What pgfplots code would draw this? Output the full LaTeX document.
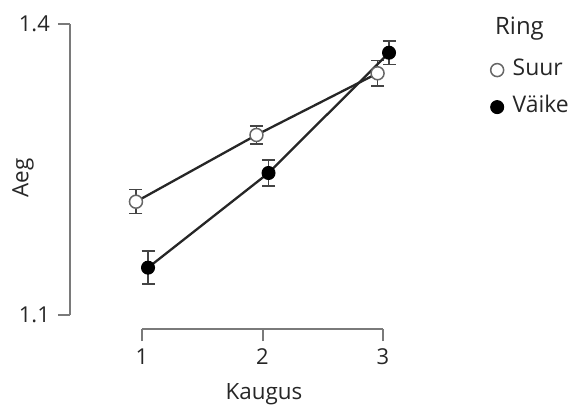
\documentclass[border=0pt]{standalone}
\usepackage{pgfplots}
\pgfplotsset{compat=1.18}
\usepackage{fontspec}
\setmainfont{Open Sans}
\definecolor{axgray}{HTML}{7A7A7A}
\definecolor{txtgray}{HTML}{262626}
\definecolor{lngray}{HTML}{262626}
\definecolor{ebgray}{HTML}{444444}
\definecolor{ocgray}{HTML}{666666}
\begin{document}
\begin{tikzpicture}
\useasboundingbox (-142bp,-90bp) rectangle (433bp,315bp);
\begin{axis}[
  at={(0,0)}, anchor=south west,
  scale only axis, width=241bp, height=291bp,
  xmin=1, xmax=3, ymin=1.1, ymax=1.4,
  clip=false,
  axis lines=left,
  axis line style={-, draw=axgray, line width=2bp},
  axis x line shift=14bp, axis y line shift=72bp,
  xtick={1,2,3}, ytick={1.1,1.4},
  xticklabels={1,2,3}, yticklabels={1.1,1.4},
  tick align=outside, major tick length=12bp,
  tick style={draw=axgray, line width=2bp},
  /pgf/number format/assume math mode=true,
  ticklabel style={font=\fontsize{22}{26}\selectfont, text=txtgray},
  yticklabel style={inner sep=8bp},
  xticklabel style={inner sep=7.5bp},
  legend style={at={(axis description cs:1.446,0.778)}, anchor=west,
    draw=none, fill=none, inner sep=0pt, row sep=16bp, column sep=9bp,
    nodes={inner sep=0pt, text height=16bp, text depth=5bp, font=\fontsize{23}{27}\selectfont, text=txtgray, anchor=west}},
  legend cell align=left,
  legend image code/.code={\draw[#1] plot coordinates {(0bp,0bp)};},
]
\addplot[draw=lngray, line width=2.3bp, mark=*, mark size=6.5bp,
  mark options={fill=white, draw=ocgray, line width=1.5bp},
  error bars/.cd, y dir=both, y explicit,
  error bar style={draw=ebgray, line width=1.4bp},
  error mark options={draw=ebgray, line width=1.4bp, mark size=6.5bp, rotate=90}]
  coordinates {
  (0.95,1.2168) +- (0,0.0124)
  (1.95,1.2856) +- (0,0.0093)
  (2.955,1.3492) +- (0,0.013)
  };
\addlegendentry{Suur}
\addplot[draw=lngray, line width=2.3bp, mark=*, mark size=6.5bp,
  mark options={fill=black, draw=black, line width=1bp},
  error bars/.cd, y dir=both, y explicit,
  error bar style={draw=ebgray, line width=1.4bp},
  error mark options={draw=ebgray, line width=1.4bp, mark size=6.5bp, rotate=90}]
  coordinates {
  (1.05,1.1488) +- (0,0.017)
  (2.05,1.2464) +- (0,0.0134)
  (3.05,1.3704) +- (0,0.012)
  };
\addlegendentry{Väike}
\end{axis}
\node[anchor=base, font=\fontsize{22.5}{26}\selectfont, text=txtgray] at (122bp,-84.5bp) {Kaugus};
\node[rotate=90, font=\fontsize{22.5}{26}\selectfont, text=txtgray] at (-119bp,137bp) {Aeg};
\node[anchor=base west, inner sep=0pt, font=\fontsize{24}{28}\selectfont, text=txtgray] at (353bp,280bp) {Ring};
\end{tikzpicture}
\end{document}
